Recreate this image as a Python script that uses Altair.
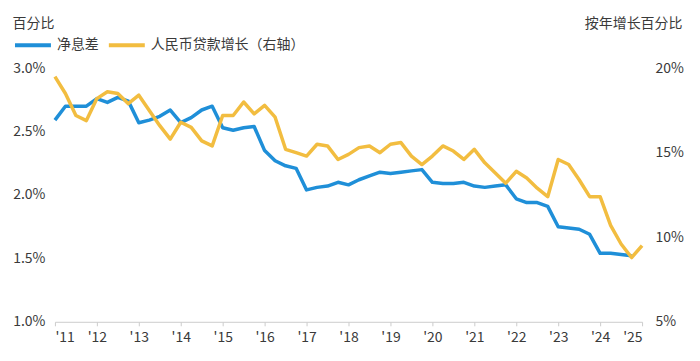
import altair as alt
import pandas as pd

# quarterly points, 2011 Q1 ... ; x in fractional years
nim = [2.59, 2.70, 2.70, 2.70, 2.76, 2.73, 2.77, 2.74, 2.57, 2.59, 2.62, 2.67,
       2.57, 2.61, 2.67, 2.70, 2.53, 2.51, 2.53, 2.54, 2.35, 2.27, 2.23, 2.21,
       2.04, 2.06, 2.07, 2.10, 2.08, 2.12, 2.15, 2.18, 2.17, 2.18, 2.19, 2.20,
       2.10, 2.09, 2.09, 2.10, 2.07, 2.06, 2.07, 2.08, 1.97, 1.94, 1.94, 1.91,
       1.75, 1.74, 1.73, 1.69, 1.54, 1.54, 1.53, 1.52]
loans = [19.5, 18.5, 17.2, 16.9, 18.2, 18.6, 18.5, 17.9, 18.4, 17.5, 16.6, 15.8,
         16.8, 16.5, 15.7, 15.4, 17.2, 17.2, 18.0, 17.3, 17.8, 17.1, 15.2, 15.0,
         14.8, 15.5, 15.4, 14.6, 14.9, 15.3, 15.4, 15.0, 15.5, 15.6, 14.8, 14.3,
         14.8, 15.4, 15.1, 14.6, 15.2, 14.4, 13.8, 13.2, 13.9, 13.5, 12.9, 12.4,
         14.6, 14.3, 13.4, 12.4, 12.4, 10.7, 9.6, 8.8, 9.5]
year_ticks = list(range(2011, 2026))
left_ticks = [1.0, 1.5, 2.0, 2.5, 3.0]
right_ticks = [5, 10, 15, 20]
series_names = ["净息差", "人民币贷款增长（右轴）"]
colors = ["#1f8fd8", "#f2bd40"]

df_nim = pd.DataFrame({"t": [2011 + i * 0.25 for i in range(len(nim))],
                       "v": nim, "series": series_names[0]})
df_loan = pd.DataFrame({"t": [2011 + i * 0.25 for i in range(len(loans))],
                        "v": loans, "series": series_names[1]})

FONT = "Noto Sans CJK SC"
TXT = "#3a3a3a"

x_enc = alt.X("t:Q", scale=alt.Scale(domain=[2011, 2025], nice=False),
              axis=alt.Axis(values=year_ticks, title=None,
                            labelExpr="\"'\" + substring(toString(datum.value), 2)",
                            domainColor="#cccccc", tickColor="#cccccc",
                            tickSize=4, labelPadding=5, grid=False))

color_enc = alt.Color("series:N",
                      scale=alt.Scale(domain=series_names, range=colors),
                      legend=alt.Legend(orient="none", legendX=-42, legendY=-43,
                                        direction="horizontal", title=None,
                                        symbolType="stroke", symbolSize=1296,
                                        symbolStrokeWidth=4, labelFontSize=14,
                                        labelColor=TXT, labelFont=FONT,
                                        columnPadding=2, labelOffset=4))

left = alt.Chart(df_nim).mark_line(strokeWidth=3.5, strokeJoin="round").encode(
    x=x_enc,
    y=alt.Y("v:Q", scale=alt.Scale(domain=[1.0, 3.0], nice=False, zero=False),
            axis=alt.Axis(values=left_ticks, orient="left",
                          labelExpr="format(datum.value, '.1f') + '%'",
                          domain=False, ticks=False, grid=False, labelPadding=10,
                          title="百分比", titleAngle=0, titleAlign="left",
                          titleBaseline="middle", titleX=-43, titleY=-45)),
    color=color_enc,
)

right = alt.Chart(df_loan).mark_line(strokeWidth=3.5, strokeJoin="round").encode(
    x=x_enc,
    y=alt.Y("v:Q", scale=alt.Scale(domain=[5, 20], nice=False, zero=False),
            axis=alt.Axis(values=right_ticks, orient="right",
                          labelExpr="datum.value + '%'",
                          domain=False, ticks=False, grid=False, labelPadding=13,
                          title="按年增长百分比", titleAngle=0, titleAlign="right",
                          titleBaseline="middle", titleX=40, titleY=-45)),
    color=color_enc,
)

chart = alt.layer(left, right).resolve_scale(y="independent").properties(
    width=588, height=254,
    padding={"left": 47, "top": 60, "right": 50, "bottom": 30},
    autosize=alt.AutoSizeParams(type="none"),
    background="white",
).configure_view(stroke=None).configure_axis(
    labelFont=FONT, titleFont=FONT, labelFontSize=14, titleFontSize=14,
    labelColor=TXT, titleColor=TXT, titleFontWeight="normal",
)

chart.save("out.html", embed_options={"renderer": "svg", "actions": False})
